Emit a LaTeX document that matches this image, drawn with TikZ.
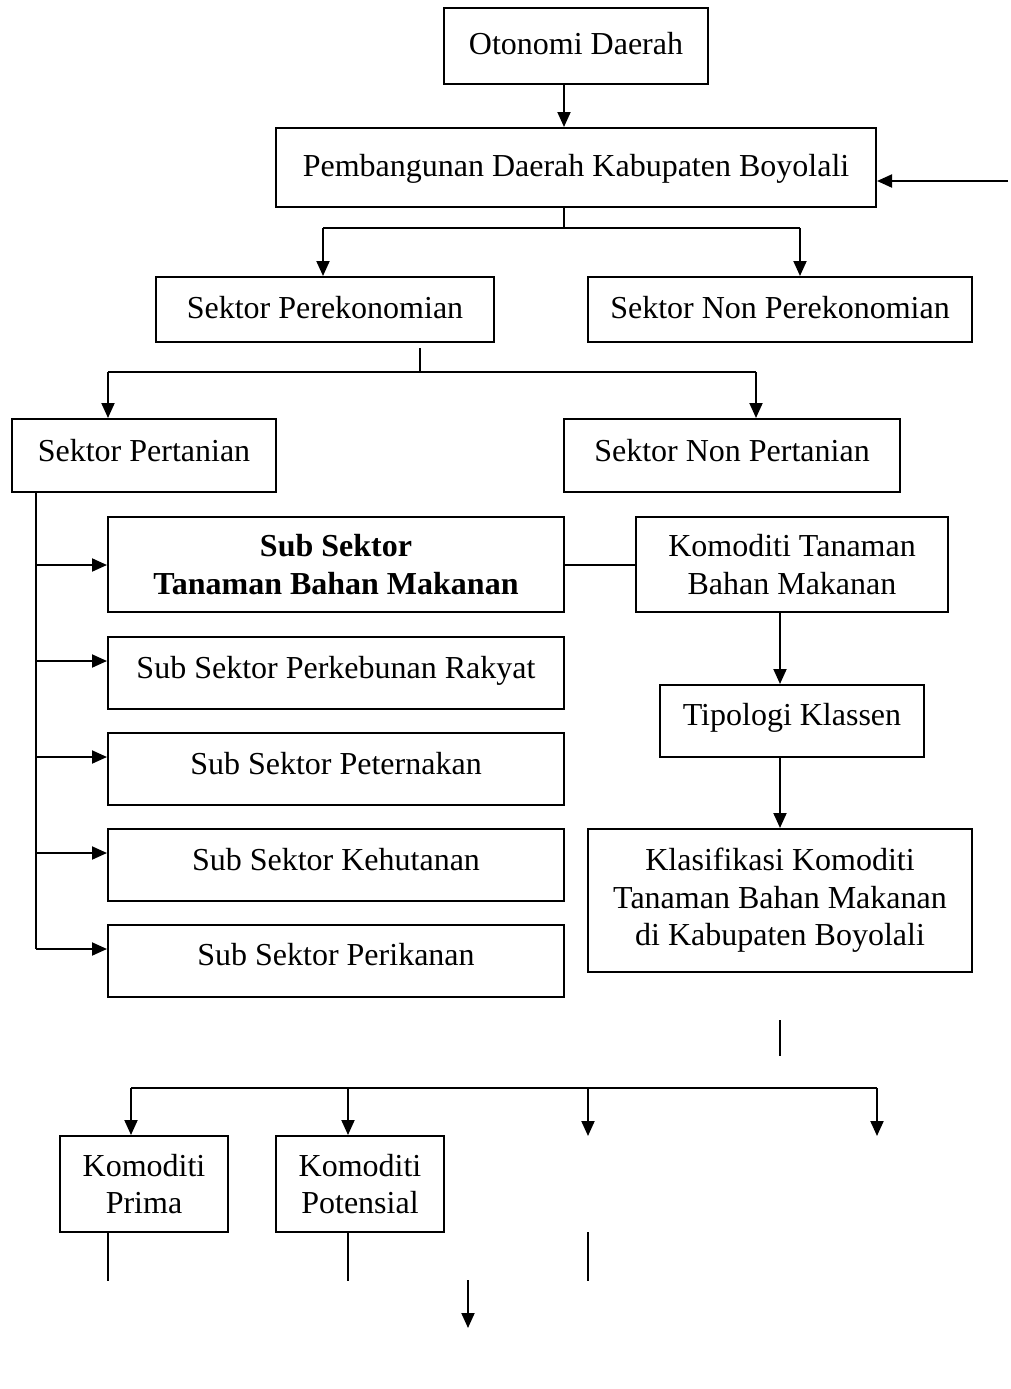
\documentclass[tikz,border=0pt]{standalone}
\usepackage{fontspec}
\setmainfont{Liberation Serif}
\usetikzlibrary{arrows.meta}
\begin{document}
\begin{tikzpicture}[x=1pt,y=-1pt,
  box/.style={draw,line width=2pt,inner sep=0pt,align=center,font=\fontsize{32}{37.5}\selectfont},
  one/.style={text height=18pt+#1pt,text depth=18pt-#1pt},
  one/.default=5,
  ln/.style={line width=2pt},
  arr/.style={line width=2pt,-{Triangle[length=15pt,width=13pt]}}]
\useasboundingbox (0,0) rectangle (1010,1389);
% boxes
\node[box,one=9,minimum width=264,minimum height=76] (oto) at (576,46) {Otonomi Daerah};
\node[box,one=9,minimum width=600,minimum height=79] (pem) at (576,167.5) {Pembangunan Daerah Kabupaten Boyolali};
\node[box,one=9,minimum width=338,minimum height=65] (sp) at (325,309.5) {Sektor Perekonomian};
\node[box,one=9,minimum width=384,minimum height=65] (snp) at (780,309.5) {Sektor Non Perekonomian};
\node[box,one=6,minimum width=264,minimum height=73] (spt) at (144,455.5) {Sektor Pertanian};
\node[box,one=6,minimum width=336,minimum height=73] (snpt) at (732,455.5) {Sektor Non Pertanian};
\node[box,minimum width=456,minimum height=95] (sub1) at (336,564.5) {\bfseries Sub Sektor\\\bfseries Tanaman Bahan Makanan};
\node[box,one,minimum width=456,minimum height=72] (sub2) at (336,673) {Sub Sektor Perkebunan Rakyat};
\node[box,one,minimum width=456,minimum height=72] (sub3) at (336,769) {Sub Sektor Peternakan};
\node[box,one,minimum width=456,minimum height=72] (sub4) at (336,865) {Sub Sektor Kehutanan};
\node[box,one,minimum width=456,minimum height=72] (sub5) at (336,960.5) {Sub Sektor Perikanan};
\node[box,minimum width=312,minimum height=95] (ktbm) at (792,564.5) {Komoditi Tanaman\\Bahan Makanan};
\node[box,one=4.5,minimum width=264,minimum height=72] (tip) at (792,721) {Tipologi Klassen};
\node[box,minimum width=384,minimum height=143] (kla) at (780,900.5) {Klasifikasi Komoditi\\Tanaman Bahan Makanan\\di Kabupaten Boyolali};
\node[box,minimum width=168,minimum height=96] (kp) at (144,1184) {Komoditi\\Prima};
\node[box,minimum width=168,minimum height=96] (kpo) at (360,1184) {Komoditi\\Potensial};
% coordinates
\coordinate (ain) at (1008,181);
\coordinate (x564) at (564,0);
\coordinate (j1) at (564,228);
\coordinate (j1l) at (323,228);
\coordinate (j1r) at (800,228);
\coordinate (s2t) at (420,348);
\coordinate (j2) at (420,372);
\coordinate (j2l) at (108,372);
\coordinate (j2r) at (756,372);
\coordinate (v36) at (36,0);
\coordinate (vend) at (36,949);
\coordinate (a1) at (0,565);
\coordinate (a2) at (0,661);
\coordinate (a3) at (0,757);
\coordinate (a4) at (0,853);
\coordinate (a5) at (0,949);
\coordinate (x780) at (780,0);
\coordinate (k1) at (780,1020);
\coordinate (k2) at (780,1056);
\coordinate (hl) at (131,1088);
\coordinate (h2) at (348,1088);
\coordinate (h3) at (588,1088);
\coordinate (hr) at (877,1088);
\coordinate (e3) at (588,1136);
\coordinate (e4) at (877,1136);
\coordinate (p1) at (108,1281);
\coordinate (p2) at (348,1281);
\coordinate (p3t) at (588,1232);
\coordinate (p3) at (588,1281);
\coordinate (q1) at (468,1280);
\coordinate (q2) at (468,1328);
% connectors
\draw[arr] (oto.south -| x564) -- (pem.north -| x564);
\draw[arr] (ain) -- (ain -| pem.east);
\draw[ln] (pem.south -| x564) -- (j1);
\draw[ln] (j1l) -- (j1r);
\draw[arr] (j1l) -- (sp.north -| j1l);
\draw[arr] (j1r) -- (snp.north -| j1r);
\draw[ln] (s2t) -- (j2);
\draw[ln] (j2l) -- (j2r);
\draw[arr] (j2l) -- (spt.north -| j2l);
\draw[arr] (j2r) -- (snpt.north -| j2r);
\draw[ln] (spt.south -| v36) -- (vend);
\draw[arr] (v36 |- a1) -- (sub1.west |- a1);
\draw[arr] (v36 |- a2) -- (sub2.west |- a2);
\draw[arr] (v36 |- a3) -- (sub3.west |- a3);
\draw[arr] (v36 |- a4) -- (sub4.west |- a4);
\draw[arr] (v36 |- a5) -- (sub5.west |- a5);
\draw[ln] (sub1.east |- a1) -- (ktbm.west |- a1);
\draw[arr] (ktbm.south -| x780) -- (tip.north -| x780);
\draw[arr] (tip.south -| x780) -- (kla.north -| x780);
\draw[ln] (k1) -- (k2);
\draw[ln] (hl) -- (hr);
\draw[arr] (hl) -- (kp.north -| hl);
\draw[arr] (h2) -- (kpo.north -| h2);
\draw[arr] (h3) -- (e3);
\draw[arr] (hr) -- (e4);
\draw[ln] (kp.south -| p1) -- (p1);
\draw[ln] (kpo.south -| p2) -- (p2);
\draw[ln] (p3t) -- (p3);
\draw[arr] (q1) -- (q2);
\end{tikzpicture}
\end{document}
